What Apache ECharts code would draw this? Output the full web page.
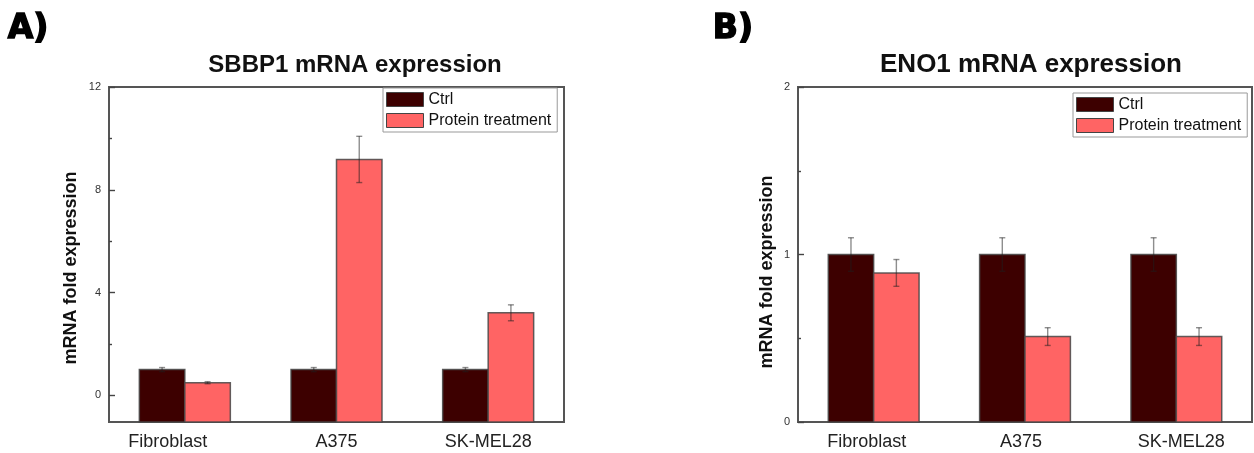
<!DOCTYPE html>
<html>
<head>
<meta charset="utf-8">
<script src="https://cdn.jsdelivr.net/npm/echarts@6/dist/echarts.min.js"></script>
<style>
  html, body { margin: 0; padding: 0; background: #fff; }
  #chart { width: 1254px; height: 453px; }
</style>
</head>
<body>
<div id="chart"></div>
<script>
// Cell lines on the x axis of both panels
const cellLines = ['Fibroblast', 'A375', 'SK-MEL28'];
const seriesNames = ['Ctrl', 'Protein treatment'];

// Panel A: SBBP1 fold expression (mean and error)
const sbbp1Ctrl = [1.0, 1.0, 1.0];
const sbbp1CtrlErr = [0.08, 0.08, 0.08];
const sbbp1Treated = [0.49, 9.18, 3.21];
const sbbp1TreatedErr = [0.04, 0.9, 0.31];

// Panel B: ENO1 fold expression (mean and error)
const eno1Ctrl = [1.0, 1.0, 1.0];
const eno1CtrlErr = [0.1, 0.1, 0.1];
const eno1Treated = [0.89, 0.51, 0.51];
const eno1TreatedErr = [0.08, 0.053, 0.053];

// Axis ranges and ticks
const sbbp1Range = [-1.04, 12];
const sbbp1Ticks = [0, 4, 8, 12];
const sbbp1MinorTicks = [2, 6, 10];
const eno1Range = [0, 2];
const eno1Ticks = [0, 1, 2];
const eno1MinorTicks = [0.5, 1.5];

const CTRL_COLOR = '#3d0000';
const TREAT_COLOR = '#ff6464';
const FONT = '"Liberation Sans", Arial, sans-serif';

// Small horizontal nudges of the category labels (px, negative = left)
const labelShiftA = { 'Fibroblast': -17, 'A375': 0, 'SK-MEL28': 0 };
const labelShiftB = { 'Fibroblast': -7, 'A375': -4, 'SK-MEL28': 5 };

function rows(values, errors) {
  return values.map((v, i) => [i, v, errors[i]]);
}

// Bar drawn from the bottom of the value axis, with a capped error bar on top
function barWithError(slot, floor) {
  return function (params, api) {
    const cat = api.value(0);
    const val = api.value(1);
    const err = api.value(2);
    const band = api.size([1, 0])[0];
    const w = band * 0.3;
    const top = api.coord([cat, val]);
    const base = api.coord([cat, floor]);
    const x0 = slot === 0 ? top[0] - w : top[0];
    const cx = x0 + w / 2;
    const hi = api.coord([cat, val + err])[1];
    const lo = api.coord([cat, val - err])[1];
    const cap = 3;
    const errStyle = { stroke: 'rgba(30,30,30,0.5)', lineWidth: 1.4 };
    return {
      type: 'group',
      children: [
        {
          type: 'rect',
          shape: { x: x0, y: top[1], width: w, height: base[1] - top[1] },
          style: { fill: api.visual('color'), stroke: 'rgba(70,70,70,0.85)', lineWidth: 1.5 }
        },
        { type: 'line', shape: { x1: cx, y1: hi, x2: cx, y2: lo }, style: errStyle },
        { type: 'line', shape: { x1: cx - cap, y1: hi, x2: cx + cap, y2: hi }, style: errStyle },
        { type: 'line', shape: { x1: cx - cap, y1: lo, x2: cx + cap, y2: lo }, style: errStyle }
      ]
    };
  };
}

// Three stacked left axes per panel: tick labels, major ticks, minor ticks
function valueAxes(gridIndex, range, ticks, minorTicks) {
  const base = {
    type: 'value', gridIndex, position: 'left', offset: 0, min: range[0], max: range[1],
    axisLine: { show: false },
    splitLine: { show: false }
  };
  const tickStyle = { color: '#444', width: 1.4 };
  return [
    Object.assign({}, base, {
      axisTick: { show: false },
      axisLabel: { customValues: ticks, margin: 8, color: '#333', fontSize: 11, fontFamily: FONT }
    }),
    Object.assign({}, base, {
      axisLabel: { show: false },
      axisTick: { show: true, inside: true, length: 6, customValues: ticks, lineStyle: tickStyle }
    }),
    Object.assign({}, base, {
      axisLabel: { show: false },
      axisTick: { show: true, inside: true, length: 3, customValues: minorTicks, lineStyle: tickStyle }
    })
  ];
}

function categoryAxis(gridIndex, shifts) {
  const rich = {};
  cellLines.forEach((name, i) => {
    const s = shifts[name];
    rich['c' + i] = {
      color: '#222', fontSize: 18, fontFamily: FONT,
      padding: s < 0 ? [0, -2 * s, 0, 0] : [0, 0, 0, 2 * s]
    };
  });
  return {
    type: 'category', gridIndex, data: cellLines,
    axisLine: { show: false, onZero: false },
    axisTick: { show: false },
    axisLabel: {
      interval: 0, hideOverlap: false,
      color: '#222', fontSize: 18, fontFamily: FONT, margin: 11,
      formatter: (v, i) => '{c' + i + '|' + v + '}',
      rich
    }
  };
}

function legend(left, top) {
  return {
    left, top, orient: 'vertical',
    data: seriesNames.map(n => ({ name: n, icon: 'rect' })),
    itemWidth: 37, itemHeight: 14, itemGap: 4,
    padding: [3, 6, 3, 3],
    borderColor: '#999', borderWidth: 1,
    itemStyle: { borderColor: '#444', borderWidth: 1 },
    textStyle: { fontSize: 16, fontFamily: FONT, color: '#111', lineHeight: 17 },
    selectedMode: false
  };
}

const chart = echarts.init(document.getElementById('chart'));

chart.setOption({
  animation: false,
  backgroundColor: '#fff',
  title: [
    { text: 'SBBP1 mRNA expression', left: 350, top: 48, textAlign: 'center',
      textStyle: { fontSize: 24, fontWeight: 'bold', fontFamily: FONT, color: '#111' } },
    { text: 'ENO1 mRNA expression', left: 1026, top: 47, textAlign: 'center',
      textStyle: { fontSize: 26, fontWeight: 'bold', fontFamily: FONT, color: '#111' } }
  ],
  legend: [legend(383, 88), legend(1073, 93)],
  grid: [
    { left: 109, top: 87, width: 455, height: 335, show: true,
      borderColor: '#555', borderWidth: 2, backgroundColor: 'transparent' },
    { left: 798, top: 87, width: 454, height: 335, show: true,
      borderColor: '#555', borderWidth: 2, backgroundColor: 'transparent' }
  ],
  xAxis: [categoryAxis(0, labelShiftA), categoryAxis(1, labelShiftB)],
  yAxis: [
    ...valueAxes(0, sbbp1Range, sbbp1Ticks, sbbp1MinorTicks),
    ...valueAxes(1, eno1Range, eno1Ticks, eno1MinorTicks)
  ],
  graphic: [
    { type: 'text', left: 7, top: 12,
      style: { text: 'A)', font: 'bold 33px "DejaVu Sans", sans-serif', fill: '#000',
               stroke: '#000', lineWidth: 1.5 } },
    { type: 'text', left: 712, top: 12,
      style: { text: 'B)', font: 'bold 33px "DejaVu Sans", sans-serif', fill: '#000',
               stroke: '#000', lineWidth: 1.5 } },
    { type: 'text', x: 71, y: 268, rotation: Math.PI / 2,
      style: { text: 'mRNA fold expression', font: 'bold 18px "Liberation Sans", Arial, sans-serif',
               fill: '#111', align: 'center', verticalAlign: 'middle' } },
    { type: 'text', x: 767, y: 272, rotation: Math.PI / 2,
      style: { text: 'mRNA fold expression', font: 'bold 18px "Liberation Sans", Arial, sans-serif',
               fill: '#111', align: 'center', verticalAlign: 'middle' } }
  ],
  series: [
    { name: seriesNames[0], type: 'custom', xAxisIndex: 0, yAxisIndex: 0,
      itemStyle: { color: CTRL_COLOR }, encode: { x: 0, y: 1 },
      renderItem: barWithError(0, sbbp1Range[0]), data: rows(sbbp1Ctrl, sbbp1CtrlErr) },
    { name: seriesNames[1], type: 'custom', xAxisIndex: 0, yAxisIndex: 0,
      itemStyle: { color: TREAT_COLOR }, encode: { x: 0, y: 1 },
      renderItem: barWithError(1, sbbp1Range[0]), data: rows(sbbp1Treated, sbbp1TreatedErr) },
    { name: seriesNames[0], type: 'custom', xAxisIndex: 1, yAxisIndex: 3,
      itemStyle: { color: CTRL_COLOR }, encode: { x: 0, y: 1 },
      renderItem: barWithError(0, eno1Range[0]), data: rows(eno1Ctrl, eno1CtrlErr) },
    { name: seriesNames[1], type: 'custom', xAxisIndex: 1, yAxisIndex: 3,
      itemStyle: { color: TREAT_COLOR }, encode: { x: 0, y: 1 },
      renderItem: barWithError(1, eno1Range[0]), data: rows(eno1Treated, eno1TreatedErr) }
  ]
});
</script>
</body>
</html>
